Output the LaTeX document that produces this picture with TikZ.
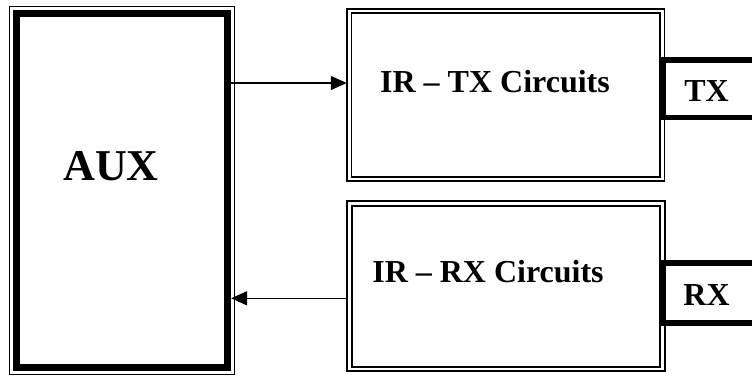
\documentclass[tikz,border=0pt]{standalone}
\usepackage{fontspec}
\setmainfont{Liberation Serif}
\usetikzlibrary{positioning}
\usetikzlibrary{arrows.meta}
\tikzset{
    auxbox/.style = {rectangle, draw=black, line width=6.7pt, minimum width=211pt, minimum height=354pt},
    auxrim/.style = {draw=black, line width=1.3pt},
    irbox/.style = {rectangle, draw=black, double, line width=1.8pt, double distance=2.7pt, minimum width=313pt, outer sep=2.5pt},
    port/.style = {rectangle, draw=black, line width=5.5pt, minimum width=120pt, outer sep=0pt, anchor=west},
    lbl/.style = {anchor=base, inner sep=0pt, font=\bfseries\fontsize{32}{36}\selectfont},
    biglbl/.style = {lbl, font=\bfseries\fontsize{44}{50}\selectfont},
    edgen/.style = {-{Triangle[length=16pt,width=14pt]}, line width=1.3pt}
}

\begin{document}
\begin{tikzpicture}[x=1pt,y=-1pt]
\useasboundingbox (0,0) rectangle (752,376);
\clip (0,0) rectangle (752,376);
% blocks
\node[auxbox] at (122.25,190.3) (aux) {};
\draw[auxrim] ([shift={(-3.7pt,3.7pt)}]aux.north west) rectangle ([shift={(3.7pt,-3.7pt)}]aux.south east);
\node[irbox, minimum height=168pt] at (505.75,95) (irtx) {};
\node[irbox, minimum height=165.6pt] at (506,286.2) (irrx) {};
\node[port, minimum height=57.5pt] at (663.5,88.5) (txport) {};
\node[port, minimum height=60pt] at (663.5,293) (rxport) {};
%
\node[biglbl] at (111,180) (auxtext) {AUX};
\node[lbl] at (495,92) (txtext) {IR -- TX Circuits};
\node[lbl] at (488,282.5) (rxtext) {IR -- RX Circuits};
\node[lbl] at (706.5,101) (tx) {TX};
\node[lbl] at (706.5,305) (rx) {RX};
%
\draw[edgen] (aux.east |- 0,83) -- (irtx.west |- 0,83);
\draw[edgen] (irrx.west |- 0,298.3) -- (aux.east |- 0,298.3);
\end{tikzpicture}
\end{document}
